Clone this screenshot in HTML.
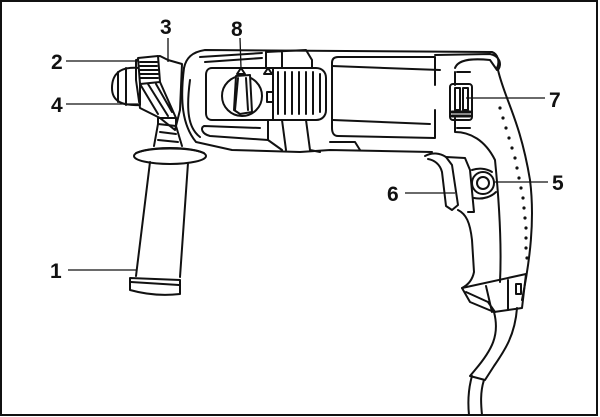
<!DOCTYPE html>
<html><head><style>
html,body{margin:0;padding:0;background:#fff}
svg{display:block}
text{font-family:"Liberation Sans",Arial,sans-serif;font-weight:bold;font-size:21px;fill:#111}
</style></head><body>
<svg width="600" height="417" viewBox="0 0 600 417" xmlns="http://www.w3.org/2000/svg">
<rect x="1" y="1" width="596" height="414" fill="#fff" stroke="#111" stroke-width="2"/>
<g fill="none" stroke="#111" stroke-width="2" stroke-linejoin="round" stroke-linecap="round">
<path d="M140,68 C120,66 112,74 112,88 C112,100 120,106 140,105 Z"/>
<path d="M118,72 L118,102 M126,68 L126,105"/>
<path d="M136,60 L160,56 L168,60 L182,64 L180,110 L175,130 L160,118 L140,108 L136,80 Z"/>
<path d="M138,58 L158,56 L160,82 L140,84 Z" fill="#fff"/>
<path d="M140,62 L157,62 M140,66 L157,66 M140,70 L158,70 M140,74 L158,74 M140,78 L158,78"/>
<path d="M140,84 L158,114 M148,84 L168,116 M156,84 L172,112 M160,82 L176,118"/>
<path d="M158,118 L176,118 L176,126 L158,124 Z"/>
<path d="M158,124 L154,146 M176,126 L182,146"/>
<path d="M160,132 L176,134 M158,140 L178,142"/>
<ellipse cx="170" cy="156" rx="36" ry="8"/>
<path d="M136,153 C150,147 190,147 204,153"/>
<path d="M150,162 L136,276 M188,163 L180,277"/>
<path d="M130,278 L180,280 L180,294 Q155,297 130,290 Z"/>
<path d="M131,282 L179,285"/>
<path d="M184,68 C186,58 192,52 205,50 L492,52 C498,54 500,62 497,68"/>
<path d="M200,57 L262,53 M205,62 L262,58"/>
<path d="M184,68 C180,100 182,125 196,142 L232,150 L300,152 L330,150 L432,152"/>
<path d="M190,80 C186,110 188,128 200,137"/>
<path d="M212,68 L316,68 C322,68 326,72 326,78 L326,110 C326,116 322,120 316,120 L212,120 C208,120 206,117 206,113 L206,75 C206,71 208,68 212,68 Z"/>
<circle cx="242" cy="96" r="20"/>
<path d="M236,76 L250,75 L252,112 L240,114 L234,110 Z" fill="#fff"/>
<path d="M238,78 L235,110 M246,78 L248,110"/>
<path d="M237,74 L241,68 L245,74 Z"/>
<path d="M264,74 L268,68 L272,74 Z"/>
<rect x="267" y="92" width="6" height="10"/>
<path d="M273,68 L273,120"/>
<path d="M278,72 L278,114 M285,72 L285,114 M292,72 L292,114 M299,72 L299,114 M306,72 L306,114 M313,72 L313,114 M320,74 L320,112"/>
<path d="M266,68 L266,52 L306,50 L312,60 L312,68 M282,52 L282,68"/>
<path d="M268,120 L268,140 L282,150 M282,120 L286,150 M306,120 L310,150 M310,150 L320,152"/>
<path d="M204,126 L260,128 M204,126 C200,128 202,134 210,136 L268,140"/>
<path d="M330,142 L355,142 L360,150"/>
<path d="M435,85 L435,57 L338,57 C334,57 332,59 332,63 L332,128 C332,133 334,136 338,136 L435,138 L435,110"/>
<path d="M332,66 L440,70"/>
<path d="M333,120 L430,124"/>
<path d="M435,55 L490,54 C500,56 502,64 498,70 C505,100 520,120 530,180 C535,220 530,260 522,300"/>
<path d="M455,68 C458,60 470,58 490,60 L497,70"/>
<path d="M457,72 L470,72"/>
<path d="M455,72 L455,85 M455,118 L455,132 C470,132 485,140 495,160 C498,190 502,240 500,282"/>
<path d="M457,128 L470,128"/>
<rect x="450" y="84" width="22" height="36" rx="3"/>
<path d="M455,88 L455,110 L460,110 L460,88 Z M463,88 L463,110 L468,110 L468,88 Z" fill="#fff"/>
<path d="M452,112 L470,112 M452,116 L470,116" stroke-width="3"/>
<g fill="#111" stroke="none">
<circle cx="500" cy="108" r="1.6"/><circle cx="503" cy="118" r="1.6"/><circle cx="506" cy="128" r="1.6"/>
<circle cx="509" cy="138" r="1.6"/><circle cx="512" cy="148" r="1.6"/><circle cx="515" cy="158" r="1.6"/>
<circle cx="517" cy="168" r="1.6"/><circle cx="519" cy="178" r="1.6"/><circle cx="521" cy="188" r="1.6"/>
<circle cx="523" cy="198" r="1.6"/><circle cx="524" cy="208" r="1.6"/><circle cx="525" cy="218" r="1.6"/>
<circle cx="526" cy="228" r="1.6"/><circle cx="526" cy="238" r="1.6"/><circle cx="526" cy="248" r="1.6"/>
<circle cx="527" cy="258" r="1.6"/>
</g>
<path d="M425,156 C432,152 440,153 446,157 L452,165 L458,205 L452,210 L446,206 L442,172 C440,164 434,160 428,159"/>
<path d="M446,157 L465,158 L470,170 L474,212 L468,212"/>
<path d="M458,210 C466,214 470,222 472,240 L474,272 C472,282 466,286 462,288"/>
<circle cx="483" cy="183" r="11"/><circle cx="483" cy="183" r="6"/>
<path d="M472,170 C478,168 486,168 492,172 M474,198 C484,200 492,196 496,192"/>
<path d="M462,288 L526,274 L522,308 L494,312 L470,302 Z"/>
<path d="M466,292 L488,302 L495,312 M486,286 L492,312 M508,280 L508,310"/>
<rect x="516" y="284" width="5" height="10"/>
<path d="M494,312 C500,335 492,350 475,370 L470,376 L485,380 L494,366 C505,350 515,335 517,308"/>
<path d="M472,376 C468,390 468,405 469,415 M484,380 C480,392 481,405 482,415"/>
</g>
<g stroke="#111" stroke-width="1.3">
<line x1="66" y1="61" x2="138" y2="61"/>
<line x1="66" y1="104" x2="138" y2="104"/>
<line x1="68" y1="270" x2="137" y2="270"/>
<line x1="168" y1="38" x2="168" y2="62"/>
<line x1="240" y1="38" x2="241" y2="68"/>
<line x1="466" y1="98" x2="545" y2="98"/>
<line x1="494" y1="182" x2="548" y2="182"/>
<line x1="405" y1="193" x2="455" y2="193"/>
</g>
<text x="51" y="69">2</text>
<text x="160" y="34">3</text>
<text x="231" y="36">8</text>
<text x="51" y="112">4</text>
<text x="50" y="278">1</text>
<text x="549" y="107">7</text>
<text x="552" y="190">5</text>
<text x="387" y="201">6</text>
</svg>
</body></html>
